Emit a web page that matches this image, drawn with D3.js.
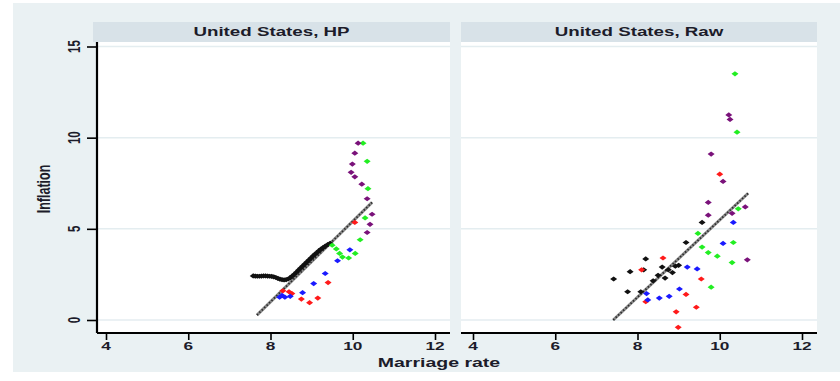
<!DOCTYPE html>
<html>
<head>
<meta charset="utf-8">
<script src="https://cdn.jsdelivr.net/npm/d3@7"></script>
<style>
  html, body { margin: 0; padding: 0; background: #ffffff; }
  svg { display: block; }
</style>
</head>
<body>
<svg id="chart" width="840" height="381"></svg>
<script>
// Panel titles and axis ticks
const panelTitles = ["United States, HP", "United States, Raw"];
const xTicks = [4, 6, 8, 10, 12];
const yTicks = [0, 5, 10, 15];

// Marriage rate (x) vs inflation (y), HP-filtered panel
const hpBlack = [[7.58,2.42],[7.63,2.41],[7.68,2.40],[7.73,2.40],[7.78,2.41],[7.83,2.42],[7.88,2.42],[7.93,2.41],[7.98,2.40],[8.03,2.39],[8.08,2.37],[8.13,2.33],[8.18,2.28],[8.23,2.24],[8.28,2.21],[8.33,2.20],[8.38,2.21],[8.43,2.25],[8.48,2.32],[8.53,2.41],[8.58,2.51],[8.63,2.62],[8.68,2.73],[8.73,2.84],[8.78,2.95],[8.83,3.06],[8.88,3.17],[8.93,3.28],[8.98,3.39],[9.03,3.50],[9.08,3.60],[9.13,3.70],[9.18,3.80],[9.23,3.89],[9.28,3.97],[9.33,4.05],[9.39,4.13],[9.45,4.21]];
const hpRed = [[8.30,1.60],[8.45,1.55],[8.52,1.45],[8.75,1.15],[8.95,0.95],[9.15,1.20],[9.40,2.05],[10.05,5.35]];
const hpBlue = [[8.22,1.25],[8.28,1.35],[8.35,1.25],[8.48,1.30],[8.78,1.50],[9.05,2.00],[9.33,2.55],[9.63,3.25],[9.93,3.85]];
const hpGreen = [[10.25,9.70],[10.35,8.70],[10.37,7.20],[10.30,5.60],[10.18,4.40],[10.06,3.65],[9.90,3.40],[9.75,3.45],[9.68,3.65],[9.60,3.90],[9.50,4.10]];
const hpPurple = [[10.13,9.70],[10.05,9.15],[9.99,8.55],[9.96,8.10],[10.05,7.85],[10.22,7.45],[10.35,6.65],[10.47,5.80],[10.42,5.25],[10.35,4.80]];
const hpFit = [[7.67,0.27],[10.47,6.45]];

// Raw panel
const rawBlack = [[7.42,2.25],[7.76,1.55],[7.82,2.65],[8.08,1.55],[8.20,3.35],[8.15,2.75],[8.38,2.15],[8.50,2.45],[8.60,2.90],[8.67,2.30],[8.75,2.75],[8.85,2.60],[8.92,2.95],[9.00,3.00],[9.18,4.25],[9.57,5.35]];
const rawRed = [[10.00,8.00],[8.62,3.40],[8.10,2.75],[9.55,2.25],[9.18,1.40],[8.20,1.00],[9.43,0.70],[8.94,0.45],[8.99,-0.40]];
const rawBlue = [[8.22,1.45],[8.25,1.10],[8.53,1.20],[8.77,1.30],[9.02,1.70],[9.21,2.90],[9.45,2.80],[10.08,4.20],[10.33,5.35]];
const rawGreen = [[10.37,13.50],[10.42,10.30],[10.45,6.10],[9.47,4.75],[9.57,4.00],[9.72,3.70],[9.94,3.50],[10.30,3.15],[10.33,4.25],[9.79,1.80]];
const rawPurple = [[10.22,11.25],[10.25,11.00],[9.79,9.10],[10.08,7.60],[9.72,6.45],[9.72,5.75],[10.30,5.85],[10.62,6.20],[10.67,3.30]];
const rawFit = [[7.41,0.00],[10.69,6.95]];

const seriesColors = { black: "#111111", red: "#ff1a1a", blue: "#1a1aff", green: "#22ee22", purple: "#7a127a" };

const panels = [
  { title: panelTitles[0], x0: 93, x1: 450, range: [106, 435], fit: hpFit, yAxis: true,
    series: [["black", hpBlack], ["red", hpRed], ["blue", hpBlue], ["green", hpGreen], ["purple", hpPurple]] },
  { title: panelTitles[1], x0: 461, x1: 817, range: [473, 802], fit: rawFit, yAxis: false,
    series: [["black", rawBlack], ["red", rawRed], ["blue", rawBlue], ["green", rawGreen], ["purple", rawPurple]] }
];

const svg = d3.select("#chart");
const FONT = "'Liberation Sans', Arial, Helvetica, sans-serif";
const STRETCH = 1.5;

// Outer graph region
svg.append("rect").attr("x", 13).attr("y", 3).attr("width", 827).attr("height", 369).attr("fill", "#eaf1f3");

const y = d3.scaleLinear().domain([0, 15]).range([320, 46.5]);
const plotTop = 42, plotBottom = 333;

function stretchedText(parent, x, yPos, txt, size, rotate, weight) {
  const g = parent.append("g")
    .attr("transform", `translate(${x},${yPos}) scale(${STRETCH},1) rotate(${rotate || 0})`);
  g.append("text")
    .attr("text-anchor", "middle")
    .attr("dominant-baseline", "central")
    .attr("font-family", FONT)
    .attr("font-size", size)
    .attr("font-weight", weight || 400)
    .attr("fill", "#1c1c2a")
    .text(txt);
  return g;
}

const diamond = (cx, cy) => `M${cx - 3.5},${cy}L${cx},${cy - 2.6}L${cx + 3.5},${cy}L${cx},${cy + 2.6}Z`;

panels.forEach(p => {
  const x = d3.scaleLinear().domain([4, 12]).range(p.range);
  const g = svg.append("g");

  // header strip
  g.append("rect").attr("x", p.x0).attr("y", 22).attr("width", p.x1 - p.x0).attr("height", 20).attr("fill", "#d8e2e8");
  stretchedText(g, (p.x0 + p.x1) / 2, 31.5, p.title, 12.5, 0, 600);

  // plot area
  const px0 = p.yAxis ? 97 : p.x0;
  g.append("rect").attr("x", px0).attr("y", plotTop).attr("width", p.x1 - px0).attr("height", plotBottom - plotTop).attr("fill", "#ffffff");

  // gridlines
  g.selectAll(".grid").data(yTicks).enter().append("line")
    .attr("x1", px0).attr("x2", p.x1)
    .attr("y1", d => y(d)).attr("y2", d => y(d))
    .attr("stroke", "#e4edf0").attr("stroke-width", 1.5);

  // fitted line: grey with dark dotted texture
  const line = d3.line().x(d => x(d[0])).y(d => y(d[1]));
  g.append("path").attr("d", line(p.fit)).attr("stroke", "#8a8a8a").attr("stroke-width", 3).attr("fill", "none");
  g.append("path").attr("d", line(p.fit)).attr("stroke", "#2a2a2a").attr("stroke-width", 1.8).attr("stroke-dasharray", "1.4,2").attr("fill", "none");

  // scatter markers
  p.series.forEach(([c, pts]) => {
    g.selectAll(null).data(pts).enter().append("path")
      .attr("d", d => diamond(x(d[0]), y(d[1])))
      .attr("fill", seriesColors[c]);
  });

  // x axis
  const xAxis = d3.axisBottom(x).tickValues(xTicks).tickSize(7).tickFormat("");
  const xa = g.append("g").attr("transform", `translate(0,${plotBottom})`).call(xAxis);
  xa.select(".domain").attr("d", `M${px0},0H${p.x1}`).attr("stroke", "#000").attr("stroke-width", 2.2);
  xa.selectAll(".tick line").attr("stroke", "#000").attr("stroke-width", 1.6);
  xTicks.forEach(t => stretchedText(g, x(t), 346.5, String(t), 11.5, 0, 600));

  if (p.yAxis) {
    const yAxis = d3.axisLeft(y).tickValues(yTicks).tickSize(10).tickFormat("");
    const ya = g.append("g").attr("transform", `translate(97,0)`).call(yAxis);
    ya.select(".domain").attr("d", `M0,${plotTop}V${plotBottom}`).attr("stroke", "#000").attr("stroke-width", 2.2);
    ya.selectAll(".tick line").attr("stroke", "#000").attr("stroke-width", 1.6);
    yTicks.forEach(t => stretchedText(g, 74, y(t), String(t), 11.5, -90, 600));
  }
});

// axis titles
stretchedText(svg, 44, 189, "Inflation", 12.5, -90, 600);
stretchedText(svg, 439, 363, "Marriage rate", 13, 0, 600);
</script>
</body>
</html>
